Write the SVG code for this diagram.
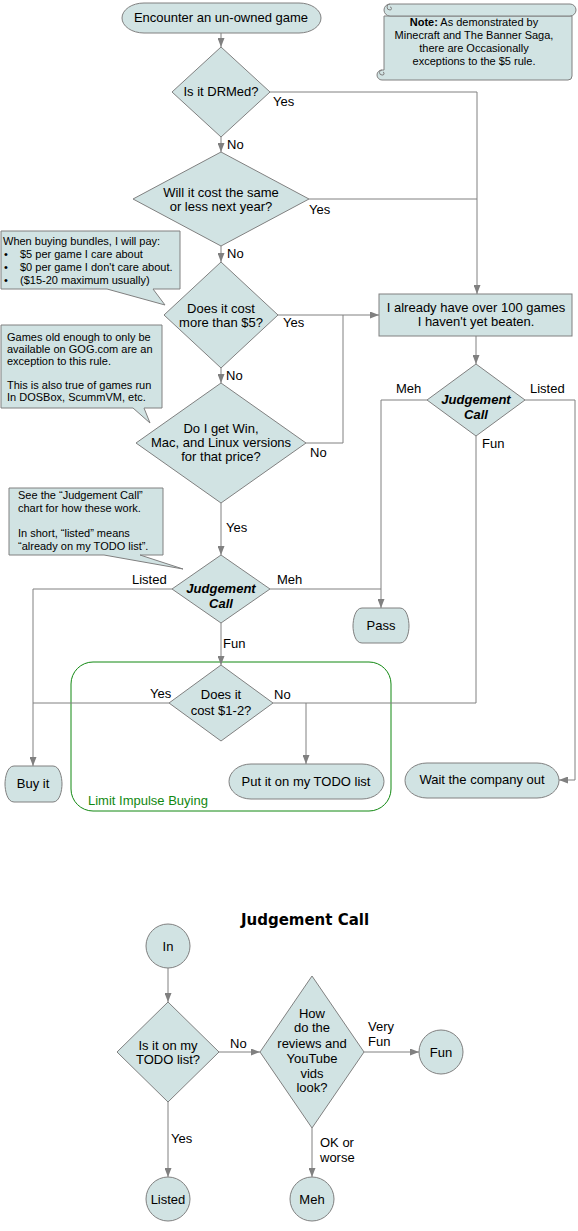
<svg xmlns="http://www.w3.org/2000/svg" width="578" height="1231" viewBox="0 0 578 1231">
<style>
.n{fill:#d1e3e3;stroke:#808080;stroke-width:1}
.e{fill:none;stroke:#808080;stroke-width:1}
.a{marker-end:url(#ah)}
text{font-family:"Liberation Sans",Arial,sans-serif;fill:#000}
.t{font-size:13px;text-anchor:middle}
.l{font-size:13px}
.c{font-size:11px}
.nt{font-size:11px;text-anchor:middle}
.j{font-size:13px;text-anchor:middle;font-weight:bold;font-style:italic}
.g{fill:none;stroke:#118811;stroke-width:1}
.gt{font-size:13px;fill:#118811}
.ttl{font-family:"DejaVu Sans",sans-serif;font-size:15px;font-weight:bold;text-anchor:middle}
</style>
<defs>
<marker id="ah" markerWidth="9" markerHeight="7" refX="9" refY="3.5" orient="auto" markerUnits="userSpaceOnUse">
<path d="M0,0 L9,3.5 L0,7 Z" fill="#808080"/>
</marker>
</defs>
<rect width="578" height="1231" fill="#ffffff"/>

<g id="group-impulse">
<rect class="g" x="71" y="662" width="320" height="149" rx="22"/>
<text class="gt" x="88" y="805">Limit Impulse Buying</text>
</g>

<g id="connectors">
<path class="e a" d="M221,33 V47"/>
<path class="e a" d="M270,92 H477 V294"/>
<path class="e a" d="M221,137 V152"/>
<path class="e" d="M309,199 H477"/>
<path class="e a" d="M221,246 V262"/>
<path class="e a" d="M278,315 H379"/>
<path class="e a" d="M221,368 V383"/>
<path class="e" d="M306,443 H343 V315"/>
<path class="e a" d="M221,503 V555"/>
<path class="e a" d="M172,589 H33 V766"/>
<path class="e" d="M270,589 H381"/>
<path class="e a" d="M221,623 V665"/>
<path class="e a" d="M476,336 V364"/>
<path class="e a" d="M427,400 H381 V608"/>
<path class="e a" d="M525,400 H575 V780 H559"/>
<path class="e" d="M476,436 V703 H273"/>
<path class="e" d="M169,703 H33"/>
<path class="e a" d="M306,703 V764"/>
<path class="e a" d="M168,968 V1002"/>
<path class="e a" d="M219,1052 H260"/>
<path class="e a" d="M364,1052 H419"/>
<path class="e a" d="M168,1102 V1177"/>
<path class="e a" d="M312,1128 V1177"/>
<text class="l" x="273" y="106">Yes</text>
<text class="l" x="227" y="149">No</text>
<text class="l" x="309" y="214">Yes</text>
<text class="l" x="227" y="258">No</text>
<text class="l" x="283" y="327">Yes</text>
<text class="l" x="226" y="380">No</text>
<text class="l" x="310" y="457">No</text>
<text class="l" x="226" y="532">Yes</text>
<text class="l" x="132" y="584">Listed</text>
<text class="l" x="277" y="584">Meh</text>
<text class="l" x="223" y="648">Fun</text>
<text class="l" x="150" y="698">Yes</text>
<text class="l" x="274" y="699">No</text>
<text class="l" x="396" y="393">Meh</text>
<text class="l" x="530" y="393">Listed</text>
<text class="l" x="482" y="448">Fun</text>
<text class="l" x="230" y="1048">No</text>
<text class="l" x="368" y="1031">Very</text>
<text class="l" x="368" y="1046">Fun</text>
<text class="l" x="171" y="1143">Yes</text>
<text class="l" x="320" y="1147">OK or</text>
<text class="l" x="320" y="1162">worse</text>
</g>

<g id="start">
<rect class="n" x="122" y="3" width="199" height="30" rx="22" ry="15"/>
<text class="t" x="221" y="22">Encounter an un-owned game</text>
</g>

<g id="note">
<path class="n" d="M384,16 H572 V76 Q572,80 568,80 H382 A5,5 0 0 1 382,70 H384 Z"/>
<path class="n" d="M390,4 H570 A6,6 0 0 1 570,16 H390 A6,6 0 0 1 390,4 Z"/>
<path class="e" d="M390,4 A3,3 0 0 0 390,10 A1.5,1.5 0 0 0 390,7"/>
<path class="e" d="M382,70 A2.5,2.5 0 0 0 382,75 A1.5,1.5 0 0 0 383,72"/>
<text class="nt" x="474" y="26"><tspan font-weight="bold">Note:</tspan> As demonstrated by</text>
<text class="nt" x="474" y="39">Minecraft and The Banner Saga,</text>
<text class="nt" x="474" y="52">there are Occasionally</text>
<text class="nt" x="474" y="65">exceptions  to the $5 rule.</text>
</g>

<g id="q-drm">
<polygon class="n" points="221,47 270,92 221,137 172,92"/>
<text class="t" x="221" y="96">Is it DRMed?</text>
</g>

<g id="q-nextyear">
<polygon class="n" points="221,152 309,199 221,246 133,199"/>
<text class="t" x="221" y="197">Will it cost the same</text>
<text class="t" x="221" y="211">or less next year?</text>
</g>

<g id="q-cost5">
<polygon class="n" points="221,262 278,315 221,368 164,315"/>
<text class="t" x="221" y="313">Does it cost</text>
<text class="t" x="221" y="327">more than $5?</text>
</g>

<g id="q-platforms">
<polygon class="n" points="221,383 306,443 221,503 136,443"/>
<text class="t" x="221" y="433">Do I get Win,</text>
<text class="t" x="221" y="447">Mac, and Linux versions</text>
<text class="t" x="221" y="461">for that price?</text>
</g>

<g id="jc-left">
<polygon class="n" points="221,555 270,589 221,623 172,589"/>
<text class="j" x="221" y="593">Judgement</text>
<text class="j" x="221" y="608">Call</text>
</g>

<g id="q-cost12">
<polygon class="n" points="221,665 273,703 221,741 169,703"/>
<text class="t" x="221" y="699">Does it</text>
<text class="t" x="221" y="715">cost $1-2?</text>
</g>

<g id="backlog">
<rect class="n" x="379" y="294" width="193" height="42"/>
<text class="t" x="476" y="312">I already have over 100 games</text>
<text class="t" x="476" y="326">I haven't yet beaten.</text>
</g>

<g id="jc-right">
<polygon class="n" points="476,364 525,400 476,436 427,400"/>
<text class="j" x="476" y="404">Judgement</text>
<text class="j" x="476" y="419">Call</text>
</g>

<g id="pass">
<path class="n" d="M362,608 H400 C407,608 409,620 409,626 C409,632 407,643 400,643 H362 C355,643 353,632 353,626 C353,620 355,608 362,608 Z"/>
<text class="t" x="381" y="630">Pass</text>
</g>

<g id="buy">
<path class="n" d="M14,766 H53 C60,766 62,778 62,784 C62,790 60,802 53,802 H14 C7,802 5,790 5,784 C5,778 7,766 14,766 Z"/>
<text class="t" x="33" y="788">Buy it</text>
</g>

<g id="todo">
<rect class="n" x="229" y="764" width="155" height="35" rx="22" ry="17.5"/>
<text class="t" x="306" y="786">Put it on my TODO list</text>
</g>

<g id="wait">
<rect class="n" x="405" y="763" width="154" height="35" rx="22" ry="17.5"/>
<text class="t" x="482" y="784">Wait the company out</text>
</g>

<g id="callout-bundles">
<path class="n" d="M1,231 H180 V289 H153 L165,305 L107,289 H1 Z"/>
<text class="c" x="3" y="245">When buying bundles, I will pay:</text>
<text class="c" x="4" y="258">•</text><text class="c" x="20" y="258">$5 per game I care about</text>
<text class="c" x="4" y="271">•</text><text class="c" x="20" y="271">$0 per game I don't care about.</text>
<text class="c" x="4" y="284">•</text><text class="c" x="20" y="284">($15-20 maximum usually)</text>
</g>

<g id="callout-gog">
<path class="n" d="M1,325 H162 V408 H144 L150,423 L133,408 H1 Z"/>
<text class="c" x="7" y="341">Games old enough to only be</text>
<text class="c" x="7" y="353">available on GOG.com  are an</text>
<text class="c" x="7" y="365"> exception to this rule.</text>
<text class="c" x="7" y="389">This is also true of games run</text>
<text class="c" x="7" y="401">In DOSBox, ScummVM, etc.</text>
</g>

<g id="callout-jc">
<path class="n" d="M9,488 H163 V555 H140 L183,569 L104,555 H9 Z"/>
<text class="c" x="18" y="499">See the “Judgement Call”</text>
<text class="c" x="18" y="512">chart for how  these work.</text>
<text class="c" x="18" y="537">In short, “listed” means</text>
<text class="c" x="18" y="550">“already on my TODO list”.</text>
</g>

<g id="title">
<text class="ttl" x="305" y="925">Judgement Call</text>
</g>

<g id="in">
<circle class="n" cx="168" cy="946" r="22"/>
<text class="t" x="168" y="951">In</text>
</g>

<g id="q-listed">
<polygon class="n" points="168,1002 219,1052 168,1102 117,1052"/>
<text class="t" x="168" y="1050">Is it on my</text>
<text class="t" x="168" y="1064">TODO list?</text>
</g>

<g id="q-reviews">
<polygon class="n" points="312,976 364,1052 312,1128 260,1052"/>
<text class="t" x="312" y="1018">How</text>
<text class="t" x="312" y="1032">do the</text>
<text class="t" x="312" y="1048">reviews and</text>
<text class="t" x="312" y="1063">YouTube</text>
<text class="t" x="312" y="1078">vids</text>
<text class="t" x="312" y="1092">look?</text>
</g>

<g id="out-fun">
<circle class="n" cx="441" cy="1052" r="22"/>
<text class="t" x="441" y="1057">Fun</text>
</g>

<g id="out-listed">
<circle class="n" cx="168" cy="1199" r="22"/>
<text class="t" x="168" y="1204">Listed</text>
</g>

<g id="out-meh">
<circle class="n" cx="312" cy="1199" r="22"/>
<text class="t" x="312" y="1204">Meh</text>
</g>
</svg>
